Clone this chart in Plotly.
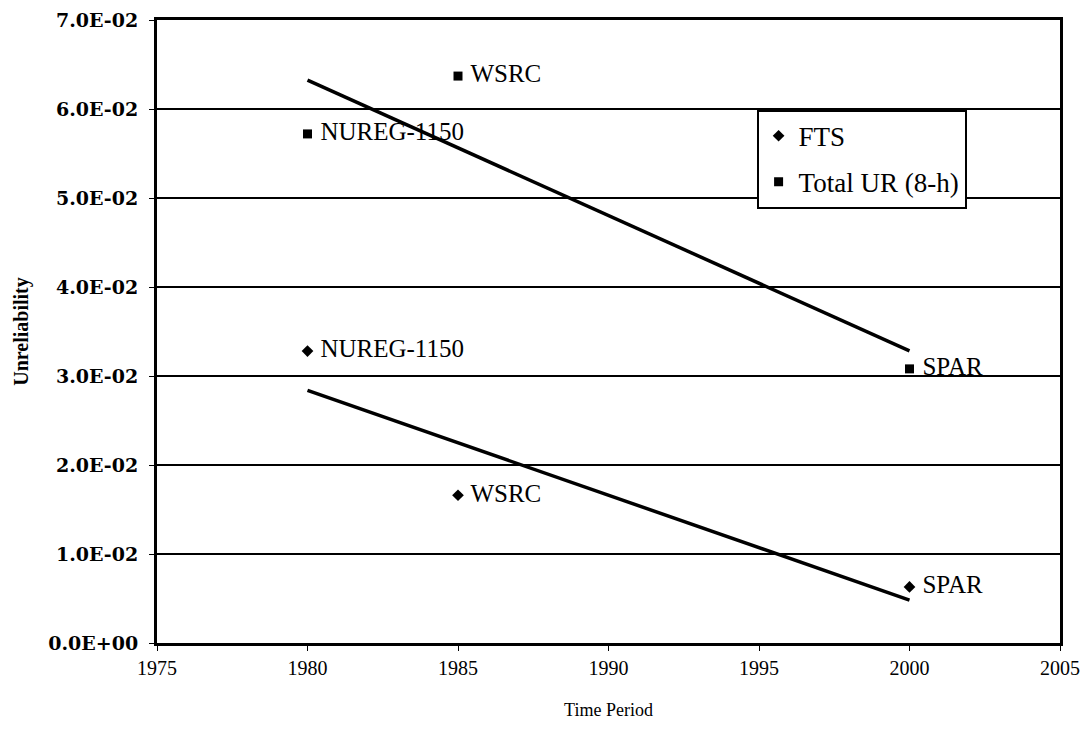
import numpy as np
import plotly.graph_objects as go

years = [1980, 1985, 2000]
fts_values = [0.0328, 0.0166, 0.0063]
total_values = [0.0572, 0.0637, 0.0308]
point_labels = ["NUREG-1150", "WSRC", "SPAR"]

y_tick_vals = [0.0, 0.01, 0.02, 0.03, 0.04, 0.05, 0.06, 0.07]
y_tick_text = ["0.0E+00", "1.0E-02", "2.0E-02", "3.0E-02", "4.0E-02", "5.0E-02", "6.0E-02", "7.0E-02"]
x_tick_vals = [1975, 1980, 1985, 1990, 1995, 2000, 2005]

serif = "Liberation Serif, Times New Roman, serif"

def trend(xs, ys):
    m, b = np.polyfit(xs, ys, 1)
    xe = [min(xs), max(xs)]
    return xe, [m * v + b for v in xe]

fig = go.Figure()

for vals in (total_values, fts_values):
    tx, ty = trend(years, vals)
    fig.add_trace(go.Scatter(x=tx, y=ty, mode="lines", line=dict(color="black", width=3.5),
                             showlegend=False, hoverinfo="skip"))

label_text = [" " + s for s in point_labels]

fig.add_trace(go.Scatter(x=years, y=fts_values, mode="markers+text", name="FTS",
                         text=label_text, textposition="middle right",
                         textfont=dict(family=serif, size=25, color="black"),
                         marker=dict(symbol="diamond", size=9, color="black"),
                         legendgroup="a"))
fig.add_trace(go.Scatter(x=years, y=total_values, mode="markers+text", name="Total UR (8-h)",
                         text=label_text, textposition="middle right",
                         textfont=dict(family=serif, size=25, color="black"),
                         marker=dict(symbol="square", size=9, color="black"),
                         legendgroup="b"))

fig.update_layout(
    width=1073, height=723,
    margin=dict(l=149, r=21, t=12, b=88),
    paper_bgcolor="white", plot_bgcolor="white",
    font=dict(family=serif, color="black"),
    showlegend=True,
    legend=dict(x=0.664, y=0.856, xanchor="left", yanchor="top",
                bordercolor="black", borderwidth=2, bgcolor="white",
                font=dict(family=serif, size=27, color="black"),
                traceorder="grouped", tracegroupgap=8,
                itemwidth=30),
    xaxis=dict(range=[1975, 2005], tickvals=x_tick_vals, ticks="outside", ticklen=5,
               tickcolor="black", tickwidth=1, automargin=False,
               showline=True, linecolor="black", linewidth=3, mirror=True,
               showgrid=False, zeroline=False,
               tickfont=dict(family=serif, size=20, color="black"),
               title=dict(text="Time Period", font=dict(family=serif, size=18, color="black"), standoff=26)),
    yaxis=dict(range=[0, 0.07], tickvals=y_tick_vals, ticktext=y_tick_text, ticks="outside",
               ticklen=5, tickcolor="black", tickwidth=1, automargin=False,
               ticklabelstandoff=7,
               showline=True, linecolor="black", linewidth=3, mirror=True,
               showgrid=True, gridcolor="black", gridwidth=1.5, zeroline=False,
               tickfont=dict(family="DejaVu Serif, serif", size=19, color="black", weight="bold"),
               title=dict(text="<b>Unreliability</b>", font=dict(family=serif, size=20, color="black"), standoff=15)),
)

fig.write_html("out.html")
